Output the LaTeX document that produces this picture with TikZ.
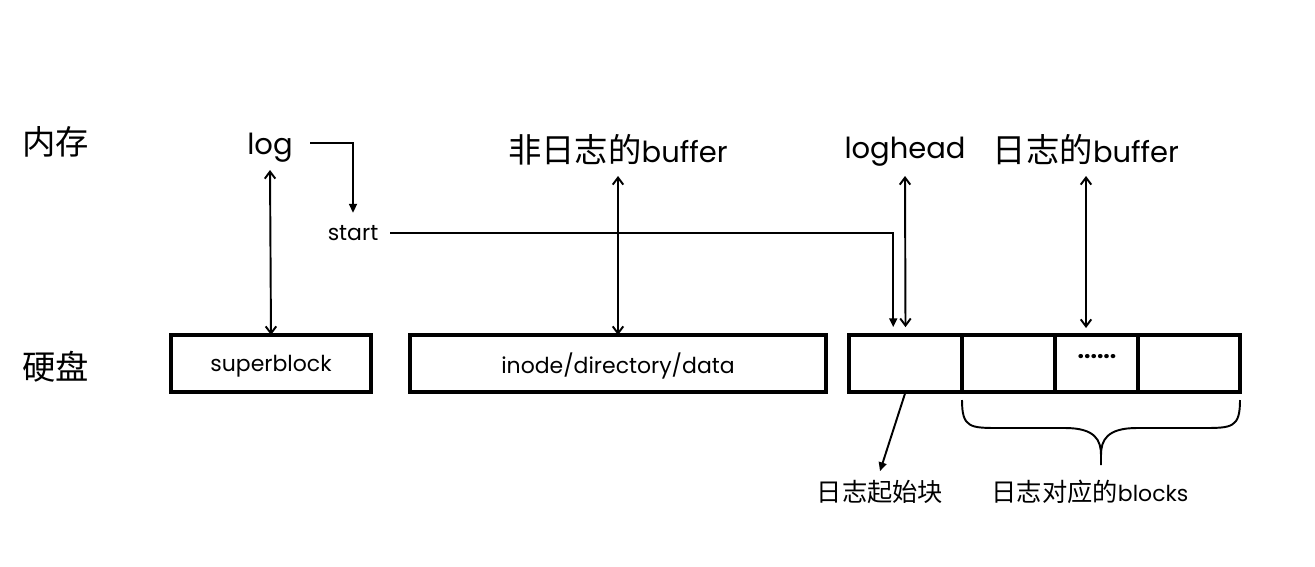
\documentclass[tikz,border=0pt]{standalone}
\usepackage{fontspec}
\setmainfont{Poppins}
\newfontfamily\cjk[Scale=1.15]{Noto Sans CJK SC}
\usetikzlibrary{arrows.meta, positioning, calc}

\begin{document}
\begin{tikzpicture}[x=0.02cm, y=-0.02cm,
    lbl/.style={inner sep=0pt, font=\fontsize{16.5}{19}\selectfont},
    sm/.style={inner sep=0pt, font=\fontsize{12.5}{15}\selectfont},
    box/.style={draw, line width=2pt, inner sep=0pt, outer sep=0pt, text depth=0pt,
                minimum height=1.14cm, font=\fontsize{12.5}{15}\selectfont},
    dbl/.style={{Straight Barb[length=4pt,width=6pt]}-{Straight Barb[length=4pt,width=6pt]}, line width=1.1pt},
    one/.style={-{Triangle[length=5pt,width=4.5pt]}, line width=1.1pt}]
  \useasboundingbox (0,0) rectangle (1315,566);

  % labels
  \node[lbl] (mem)  at (56,142) {\cjk 内存};
  \node[lbl] (disk) at (56,367) {\cjk 硬盘};
  \node[lbl] (log)  at (270,148) {log};
  \node[sm]  (start) at (353,233) {start};
  \node[lbl] (nbuf) at (618,150) {{\cjk 非日志的}buffer};
  \node[lbl] (lhead) at (905,152) {loghead};
  \node[lbl] (lbuf) at (1086,150) {{\cjk 日志的}buffer};

  % disk layout
  \node[box, minimum width=4cm]    (sb) at (271,363.5) {superblock};
  \node[box, minimum width=8.32cm] (ib) at (618,363.5) {inode/directory/data};
  \node[box, minimum width=2.26cm] (c1) at (905.5,363.5) {};
  \node[box, minimum width=1.86cm] (c2) at (1008.5,363.5) {};
  \node[box, minimum width=1.66cm] (c3) at (1096.5,363.5) {};
  \node[box, minimum width=2.04cm] (c4) at (1189,363.5) {};
  \node[sm, font=\bfseries\fontsize{13}{15}\selectfont] (dots) at (1097,357) {......};

  \node[sm] (first) at (880,492) {\cjk 日志起始块};
  \node[sm] (blks)  at (1090,492) {{\cjk 日志对应的}blocks};

  \coordinate (up) at (0,176);
  \coordinate (dn) at (0,328);
  \draw[dbl] (log |- 0,170) -- (sb.north);
  \draw[dbl] (nbuf |- up) -- (ib.north);
  \draw[dbl] (lhead |- up) -- ([yshift=4.5pt]c1.north);
  \draw[dbl] (lbuf |- up) -- (lbuf |- dn);

  \draw[one] ([xshift=23pt]log.center |- 0,143) -| ([yshift=7pt]start.north);
  \draw[one] ([xshift=6.5pt]start.east) -| ([shift={(-7pt,4.5pt)}]c1.north);
  \draw[one] (c1.south) -- ([yshift=5pt]first.north);

  % brace under the log blocks
  \draw[line width=1.1pt]
    (962,400) .. controls (962,428) and (970,428) .. (1000,428) -- (1065,428)
    .. controls (1095,428) and (1101,440) .. (1101,455) -- (1101,465);
  \draw[line width=1.1pt]
    (1240,400) .. controls (1240,428) and (1232,428) .. (1202,428) -- (1137,428)
    .. controls (1107,428) and (1101,440) .. (1101,455);
\end{tikzpicture}
\end{document}
